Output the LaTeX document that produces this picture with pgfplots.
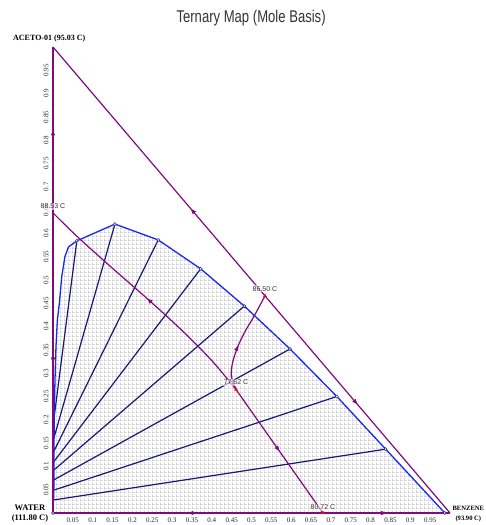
\documentclass[border=0pt]{standalone}
\usepackage{fontspec}
\setmainfont{Liberation Serif}
\newfontfamily\labelsans{Liberation Sans}
\newfontfamily\titlefont[FakeStretch=0.77]{Liberation Sans}
\usepackage{pgfplots}
\pgfplotsset{compat=1.18}
\usetikzlibrary{patterns,decorations.markings,arrows.meta}

% fine dotted grid used to shade the two-liquid region
\pgfdeclarepatternformonly{phasegrid}{\pgfqpoint{0pt}{0pt}}{\pgfqpoint{4pt}{4pt}}{\pgfqpoint{4pt}{4pt}}{%
  \pgfpathrectangle{\pgfqpoint{0pt}{0pt}}{\pgfqpoint{0.9pt}{0.9pt}}%
  \pgfpathrectangle{\pgfqpoint{2pt}{0pt}}{\pgfqpoint{0.9pt}{0.9pt}}%
  \pgfpathrectangle{\pgfqpoint{0pt}{2pt}}{\pgfqpoint{0.9pt}{0.9pt}}%
  \pgfusepath{fill}}

\definecolor{bnd}{RGB}{128,10,128}
\definecolor{binodal}{RGB}{25,40,230}
\definecolor{tie}{RGB}{25,25,110}
\definecolor{azeo}{RGB}{220,20,40}

\tikzset{
  midarrow/.style={postaction={decorate},
    decoration={markings, mark=at position #1 with {\arrow{Triangle[length=5.5pt,width=4pt]}}}},
  boundary/.style={bnd, line width=1.2pt, mark=none},
  tieline/.style={tie, line width=1.2pt, mark=none},
  templabel/.style={font=\labelsans\fontsize{7}{8}\selectfont, text=black!80, anchor=south, inner sep=1pt, fill=white, fill opacity=0.6, text opacity=1},
}

\begin{document}
\begin{tikzpicture}
\useasboundingbox (-53pt,-12pt) rectangle (432pt,513pt);
\begin{axis}[
  anchor=origin, at={(0pt,0pt)},
  x=397pt, y=466pt,
  xmin=0, xmax=1, ymin=0, ymax=1,
  clip=false,
  axis x line=bottom, axis y line=left,
  axis line style={draw=none},
  xtick={0.05,0.1,0.15,0.2,0.25,0.3,0.35,0.4,0.45,0.5,0.55,0.6,0.65,0.7,0.75,0.8,0.85,0.9,0.95},
  ytick={0.05,0.1,0.15,0.2,0.25,0.3,0.35,0.4,0.45,0.5,0.55,0.6,0.65,0.7,0.75,0.8,0.85,0.9,0.95},
  /pgf/number format/.cd, fixed, precision=2, assume math mode=true,
  /pgfplots/.cd,
  tick label style={font=\fontsize{7}{8}\selectfont, text=black!85},
  xticklabel style={anchor=north, yshift=0pt},
  yticklabel style={rotate=90, anchor=south, xshift=0pt},
  major tick length=2pt,
  tick style={bnd, line width=0.6pt},
]

% two-liquid region
\addplot[draw=none, pattern=phasegrid, pattern color=black!55] coordinates {
  (0,0) (0.002,0.028) (0.003,0.200) (0.005,0.285) (0.0075,0.357) (0.011,0.414)
  (0.016,0.450) (0.022,0.507) (0.030,0.550) (0.039,0.571) (0.060,0.584)
  (0.156,0.620) (0.265,0.586) (0.372,0.524) (0.482,0.444) (0.597,0.352)
  (0.715,0.250) (0.838,0.137) (0.987,0)} -- cycle;

% tie lines
\addplot[tieline] coordinates {(0.002,0.200) (0.060,0.584)};
\addplot[tieline] coordinates {(0.002,0.160) (0.156,0.620)};
\addplot[tieline] coordinates {(0.002,0.132) (0.265,0.586)};
\addplot[tieline] coordinates {(0.002,0.110) (0.372,0.524)};
\addplot[tieline] coordinates {(0.002,0.092) (0.482,0.444)};
\addplot[tieline] coordinates {(0.002,0.071) (0.597,0.352)};
\addplot[tieline] coordinates {(0.002,0.049) (0.715,0.250)};
\addplot[tieline] coordinates {(0.002,0.028) (0.838,0.137)};

% binodal curve
\addplot[binodal, line width=1.3pt, mark=none] coordinates {
  (0.002,0.028) (0.003,0.200) (0.005,0.285) (0.0075,0.357) (0.011,0.414)
  (0.016,0.450) (0.022,0.507) (0.030,0.550) (0.039,0.571) (0.060,0.584)
  (0.156,0.620) (0.265,0.586) (0.372,0.524) (0.482,0.444) (0.597,0.352)
  (0.715,0.250) (0.838,0.137) (0.987,0)};

% distillation boundaries and triangle edges
\addplot[boundary, midarrow=0.5] coordinates {(0,0.644) (0,1)};
\addplot[boundary, midarrow=0.5] coordinates {(0,0.644) (0,0)};
\addplot[boundary, midarrow=0.35] coordinates {(0.534,0.466) (0,1)};
\addplot[boundary, midarrow=0.5] coordinates {(0.534,0.466) (1,0)};
\addplot[boundary, midarrow=0.5] coordinates {(0.68,0) (0,0)};
\addplot[boundary, midarrow=0.5] coordinates {(0.68,0) (1,0)};
\addplot[boundary, smooth, midarrow=0.5] coordinates {
  (0.461,0.265) (0.40,0.327) (0.327,0.390) (0.244,0.455) (0.15,0.525) (0.06,0.594) (0,0.644)};
\addplot[boundary, smooth, midarrow=0.45] coordinates {
  (0.461,0.265) (0.449,0.295) (0.453,0.325) (0.466,0.358) (0.484,0.390) (0.505,0.420) (0.534,0.466)};
\addplot[boundary, midarrow=0.5] coordinates {(0.461,0.265) (0.68,0)};

% binodal nodes
\addplot[only marks, mark=*, mark size=1.5pt, mark options={fill=white, draw=tie, line width=0.5pt}] coordinates {
  (0.060,0.584) (0.156,0.620) (0.265,0.586) (0.372,0.524) (0.482,0.444)
  (0.597,0.352) (0.715,0.250) (0.838,0.137) (0.987,0) (0,0)};

% azeotropes
\addplot[only marks, mark=triangle*, mark size=1.8pt, azeo] coordinates {
  (0.534,0.466) (0.461,0.265) (0.68,0)};

% labels
\node[templabel] at (axis cs:0,0.650) {88.53 C};
\node[templabel] at (axis cs:0.534,0.473) {86.50 C};
\node[templabel] at (axis cs:0.461,0.272) {77.62 C};
\node[templabel] at (axis cs:0.68,0.004) {80.72 C};

\node[font=\titlefont\fontsize{17}{19}\selectfont, text=black!80] at (axis cs:0.499,1.062) {Ternary Map (Mole Basis)};
\node[font=\bfseries\fontsize{8}{9}\selectfont, anchor=west, inner sep=0pt] at (axis cs:-0.1008,1.017) {ACETO-01 (95.03 C)};
\node[font=\bfseries\fontsize{8.5}{10}\selectfont, align=center, inner sep=0pt] at (axis cs:-0.058,-0.002) {WATER\\(111.80 C)};
\node[font=\bfseries\fontsize{6.6}{10}\selectfont, align=center, anchor=west, inner sep=0pt] at (axis cs:1.006,-0.002) {BENZENE\\(93.90 C)};
\end{axis}
\end{tikzpicture}
\end{document}
